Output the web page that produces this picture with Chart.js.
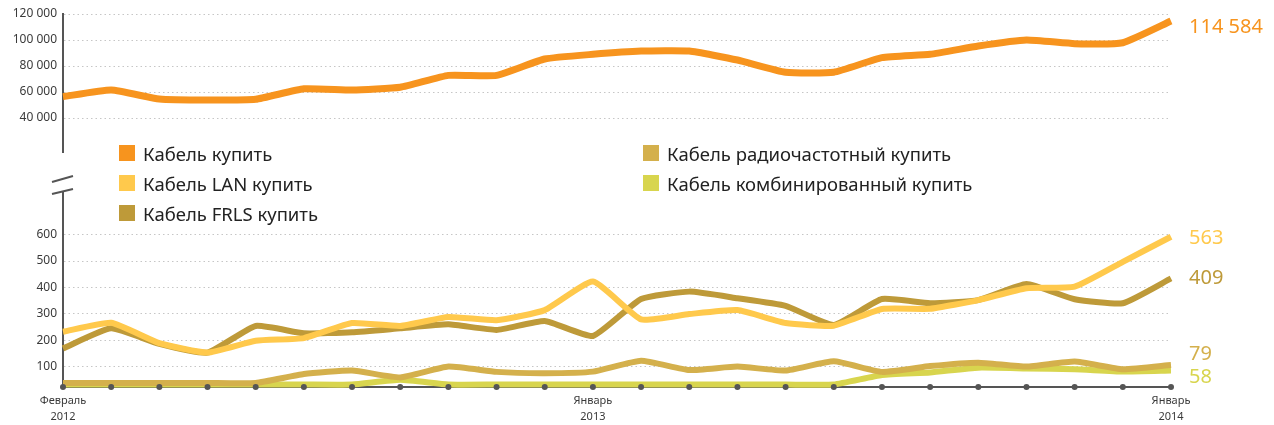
<!DOCTYPE html>
<html lang="ru">
<head>
<meta charset="utf-8">
<title>Кабель купить</title>
<script src="https://cdn.jsdelivr.net/npm/chart.js@4.4.1/dist/chart.umd.min.js"></script>
<style>
  html, body { margin: 0; padding: 0; background: #fff; }
  body { width: 1274px; height: 425px; position: relative; overflow: hidden; font-family: 'Noto Sans', sans-serif; }
  #topChart { position: absolute; left: 0; top: 0; }
  #bottomChart { position: absolute; left: 0; top: 156px; }
  #legend {
    position: absolute; left: 119px; top: 138px;
    display: grid; grid-template-columns: 524px auto;
    grid-template-rows: repeat(3, 30px); grid-auto-flow: column;
  }
  .item { display: flex; align-items: center; font-size: 18.5px; color: #222; white-space: nowrap; }
  .swatch { width: 16px; height: 16px; margin-right: 8px; }
</style>
</head>
<body>
<canvas id="topChart" width="1274" height="156"></canvas>
<canvas id="bottomChart" width="1274" height="269"></canvas>
<div id="legend"></div>

<script>
const months = [
  ['Февраль', '2012'], ['Март', '2012'], ['Апрель', '2012'], ['Май', '2012'],
  ['Июнь', '2012'], ['Июль', '2012'], ['Август', '2012'], ['Сентябрь', '2012'],
  ['Октябрь', '2012'], ['Ноябрь', '2012'], ['Декабрь', '2012'], ['Январь', '2013'],
  ['Февраль', '2013'], ['Март', '2013'], ['Апрель', '2013'], ['Май', '2013'],
  ['Июнь', '2013'], ['Июль', '2013'], ['Август', '2013'], ['Сентябрь', '2013'],
  ['Октябрь', '2013'], ['Ноябрь', '2013'], ['Декабрь', '2013'], ['Январь', '2014']
];

const cableBuy = [56400, 61500, 54600, 53800, 54400, 62500, 61500, 63600, 72800, 72800, 85400, 89000,
  91500, 91500, 84600, 75200, 75200, 86400, 89000, 95400, 100000, 97200, 97900, 114584];
const cableLan = [232, 266, 189, 153, 198, 208, 265, 254, 288, 276, 314, 422,
  279, 299, 314, 265, 255, 318, 319, 352, 397, 403, 497, 592];
const cableFrls = [169, 245, 186, 153, 254, 226, 230, 245, 260, 239, 273, 216,
  356, 384, 359, 330, 258, 356, 340, 352, 413, 355, 340, 434];
const cableRadio = [38, 38, 38, 38, 38, 72, 85, 59, 100, 80, 75, 81,
  122, 87, 100, 85, 120, 80, 102, 115, 100, 119, 90, 106];
const cableCombined = [32, 32, 32, 32, 32, 32, 32, 50, 32, 32, 32, 32,
  32, 32, 32, 32, 32, 68, 78, 96, 93, 90, 81, 85];

const seriesNames = ['Кабель купить', 'Кабель LAN купить', 'Кабель FRLS купить',
  'Кабель радиочастотный купить', 'Кабель комбинированный купить'];
const seriesColors = ['#F7941E', '#FFC94C', '#BE9A39', '#D4B04C', '#D8D54E'];
const endLabels = ['114 584', '563', '409', '79', '58'];

const topTicks = [40000, 60000, 80000, 100000, 120000];
const bottomTicks = [100, 200, 300, 400, 500, 600];

const AXIS = '#555';
const fmt = v => String(v).replace(/\B(?=(\d{3})+(?!\d))/g, ' ');

// legend (html, two columns)
const legend = document.getElementById('legend');
seriesNames.forEach((name, i) => {
  const el = document.createElement('div');
  el.className = 'item';
  el.innerHTML = `<span class="swatch" style="background:${seriesColors[i]}"></span>${name}`;
  legend.appendChild(el);
});

function yScale(min, max, ticks) {
  return {
    min, max,
    afterBuildTicks: s => { s.ticks = ticks.map(value => ({ value })); },
    afterFit: s => { s.width = 63; s.paddingTop = 0; s.paddingBottom = 0; },
    grid: { color: '#c6c6c6', lineWidth: 1, drawTicks: false },
    border: { display: true, color: AXIS, width: 2, dash: [1.5, 3] },
    ticks: { padding: 6, color: '#3a3a3a', font: { family: 'Noto Sans', size: 12 }, callback: v => fmt(v) }
  };
}

function line(data, i, width) {
  return {
    data, label: seriesNames[i], borderColor: seriesColors[i], borderWidth: width,
    pointRadius: 0, tension: 0.15, borderJoinStyle: 'round', clip: false,
    endLabel: endLabels[i]
  };
}

const endLabelPlugin = {
  id: 'endLabelPlugin',
  afterDatasetsDraw(chart, args, opts) {
    const { ctx, chartArea } = chart;
    ctx.save();
    ctx.font = '20px "Noto Sans"';
    ctx.textBaseline = 'middle';
    chart.data.datasets.forEach((ds, i) => {
      const meta = chart.getDatasetMeta(i);
      const pt = meta.data[meta.data.length - 1];
      ctx.fillStyle = ds.borderColor;
      ctx.fillText(ds.endLabel, chartArea.right + 18, pt.y + opts.shift[i]);
    });
    ctx.restore();
  }
};

const axisDecor = {
  id: 'axisDecor',
  afterDraw(chart) {
    const { ctx, scales: { x } } = chart;
    ctx.save();
    ctx.fillStyle = AXIS;
    months.forEach((m, i) => {
      ctx.beginPath();
      ctx.arc(x.getPixelForValue(i), x.top, 3, 0, Math.PI * 2);
      ctx.fill();
    });
    // axis break marks
    ctx.strokeStyle = AXIS;
    ctx.lineWidth = 2;
    ctx.beginPath();
    ctx.moveTo(52, 26); ctx.lineTo(73, 20);
    ctx.moveTo(52, 38); ctx.lineTo(73, 33);
    ctx.stroke();
    ctx.restore();
  }
};

const common = {
  responsive: false,
  animation: false,
  events: []
};

new Chart(document.getElementById('topChart'), {
  type: 'line',
  data: { labels: months, datasets: [line(cableBuy, 0, 7)] },
  options: {
    ...common,
    layout: { padding: { top: 14, right: 103, bottom: 4, left: 0 } },
    scales: {
      x: { display: false },
      y: yScale(13850, 120000, topTicks)
    },
    plugins: {
      legend: { display: false },
      tooltip: { enabled: false },
      endLabelPlugin: { shift: [6] }
    }
  },
  plugins: [endLabelPlugin]
});

new Chart(document.getElementById('bottomChart'), {
  type: 'line',
  data: {
    labels: months,
    datasets: [
      line(cableLan, 1, 6),
      line(cableFrls, 2, 6),
      line(cableRadio, 3, 6),
      line(cableCombined, 4, 6)
    ]
  },
  options: {
    ...common,
    layout: { padding: { top: 36, right: 103, bottom: 0, left: 0 } },
    scales: {
      x: {
        afterFit: s => { s.height = 38; },
        grid: { display: false },
        border: { display: true, color: AXIS, width: 2 },
        ticks: {
          autoSkip: false, maxRotation: 0, padding: -2, color: '#3a3a3a',
          font: { family: 'Noto Sans', size: 11, lineHeight: 1.45 },
          callback: (v, i) => (i === 0 || months[i][0] === 'Январь') ? months[i] : ''
        }
      },
      y: yScale(22.7, 761.4, bottomTicks)
    },
    plugins: {
      legend: { display: false },
      tooltip: { enabled: false },
      endLabelPlugin: { shift: [2, 0, -11, 7] }
    }
  },
  plugins: [endLabelPlugin, axisDecor]
});
</script>
</body>
</html>
